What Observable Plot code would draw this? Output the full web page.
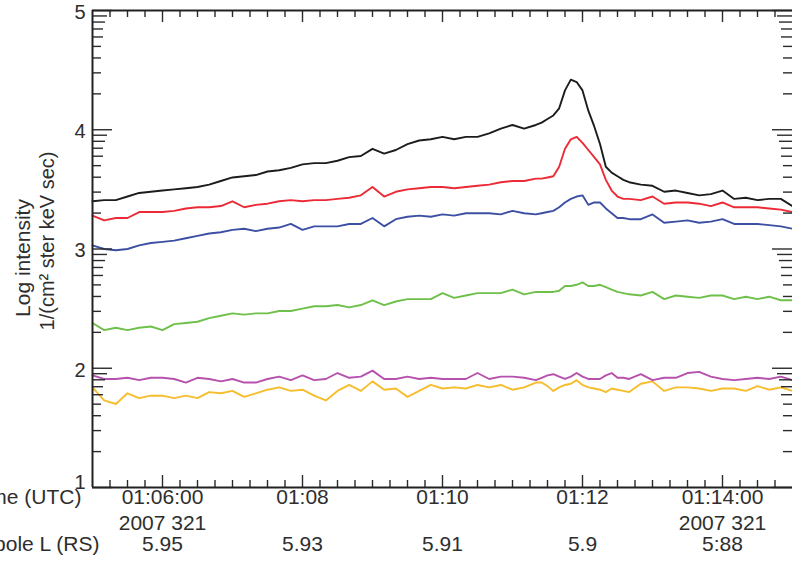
<!DOCTYPE html>
<html><head><meta charset="utf-8">
<script src="https://cdn.jsdelivr.net/npm/d3@7"></script>
<script src="https://cdn.jsdelivr.net/npm/@observablehq/plot@0.6"></script>
<style>
html,body{margin:0;padding:0;background:#fff;}
#chart{width:792px;height:562px;overflow:hidden;}
</style></head><body><div id="chart"></div>
<script>
// seconds after 01:05:00 UTC, 2007 day 321
const seconds = [0,10,20,30,40,50,60,70,80,90,100,110,120,130,140,150,160,170,180,190,200,210,220,230,240,250,260,270,280,290,300,310,320,330,340,350,360,370,
  380,385,390,395,400,405,410,415,420,425,430,435,440,445,450,455,460,
  470,480,490,500,510,520,530,540,550,560,570,580,590,600];

const black = [3.40,3.41,3.41,3.44,3.47,3.48,3.49,3.50,3.51,3.52,3.54,3.57,3.60,3.61,3.62,3.65,3.66,3.68,3.71,3.72,3.72,3.74,3.77,3.78,3.84,3.80,3.83,3.88,3.91,3.92,3.94,3.92,3.94,3.94,3.97,4.01,4.04,4.01,
  4.04,4.06,4.09,4.12,4.18,4.33,4.42,4.40,4.33,4.16,4.03,3.88,3.69,3.64,3.61,3.58,3.56,
  3.54,3.53,3.48,3.49,3.47,3.45,3.46,3.49,3.42,3.43,3.41,3.42,3.42,3.36];
const red = [3.28,3.24,3.26,3.26,3.31,3.31,3.31,3.32,3.34,3.35,3.35,3.36,3.40,3.35,3.37,3.38,3.40,3.41,3.40,3.41,3.41,3.42,3.43,3.45,3.52,3.44,3.48,3.50,3.51,3.52,3.52,3.51,3.52,3.53,3.54,3.56,3.57,3.57,
  3.59,3.59,3.60,3.61,3.69,3.84,3.92,3.94,3.89,3.83,3.77,3.71,3.58,3.49,3.44,3.42,3.42,
  3.41,3.44,3.38,3.39,3.39,3.38,3.36,3.39,3.35,3.35,3.35,3.34,3.33,3.31];
const blue = [3.03,3.00,2.99,3.00,3.03,3.05,3.06,3.07,3.09,3.11,3.13,3.14,3.16,3.17,3.15,3.17,3.18,3.21,3.16,3.19,3.19,3.19,3.21,3.21,3.26,3.19,3.25,3.27,3.28,3.27,3.29,3.28,3.30,3.30,3.30,3.29,3.32,3.30,
  3.29,3.30,3.31,3.32,3.35,3.39,3.42,3.44,3.45,3.37,3.39,3.39,3.34,3.30,3.26,3.26,3.25,
  3.25,3.29,3.22,3.23,3.24,3.22,3.23,3.25,3.21,3.21,3.21,3.20,3.19,3.17];
const green = [2.38,2.32,2.34,2.32,2.34,2.35,2.32,2.37,2.38,2.39,2.42,2.44,2.46,2.45,2.46,2.46,2.48,2.48,2.50,2.52,2.52,2.53,2.51,2.53,2.57,2.53,2.56,2.58,2.58,2.58,2.63,2.59,2.61,2.63,2.63,2.63,2.66,2.62,
  2.64,2.64,2.64,2.64,2.65,2.69,2.69,2.70,2.72,2.69,2.69,2.70,2.68,2.66,2.64,2.63,2.62,
  2.61,2.64,2.58,2.61,2.60,2.59,2.61,2.61,2.58,2.60,2.58,2.60,2.57,2.57];
const magenta = [1.94,1.91,1.91,1.92,1.90,1.92,1.92,1.91,1.88,1.92,1.91,1.89,1.91,1.88,1.88,1.91,1.93,1.90,1.94,1.90,1.91,1.96,1.92,1.93,1.98,1.91,1.91,1.93,1.91,1.92,1.91,1.91,1.91,1.96,1.91,1.93,1.93,1.92,
  1.90,1.92,1.94,1.95,1.93,1.91,1.93,1.96,1.93,1.91,1.91,1.91,1.94,1.96,1.92,1.92,1.91,
  1.95,1.90,1.92,1.92,1.96,1.97,1.93,1.91,1.90,1.91,1.92,1.91,1.93,1.90];
const yellow = [1.84,1.73,1.70,1.79,1.75,1.77,1.77,1.75,1.77,1.75,1.80,1.79,1.81,1.76,1.79,1.82,1.84,1.81,1.82,1.77,1.73,1.81,1.86,1.81,1.89,1.82,1.83,1.76,1.81,1.86,1.83,1.84,1.83,1.86,1.84,1.86,1.82,1.84,
  1.88,1.88,1.85,1.81,1.84,1.86,1.87,1.90,1.86,1.84,1.83,1.82,1.80,1.83,1.82,1.81,1.80,
  1.87,1.89,1.81,1.84,1.84,1.83,1.81,1.83,1.83,1.81,1.85,1.82,1.84,1.81];

const seriesNames = ["ch6","ch5","ch4","ch3","ch2","ch1"];
const seriesColors = ["#f6bd2c","#b651ad","#6fc04a","#3c4fa3","#ec2a36","#1c1c1c"];
const seriesValues = [yellow, magenta, green, blue, red, black];

const majorTickTimes = ["01:06:00","01:08:00","01:10:00","01:12:00","01:14:00"];
const majorTickLabels = ["01:06:00","01:08","01:10","01:12","01:14:00"];
const dateLabels = ["2007 321","","","","2007 321"];
const dipoleL = ["5.95","5.93","5.91","5.9","5:88"];
const yTicks = [1,2,3,4,5];
const rowTitles = ["Time (UTC)","Dipole L (RS)"];
const yLabelLines = ["Log intensity","1/(cm\u00b2 ster keV sec)"];

const day = "2007-11-17";
const t0 = new Date(`${day}T01:05:00Z`);
const t1 = new Date(`${day}T01:15:00Z`);
const rows = [];
seriesValues.forEach((vals, j) => vals.forEach((v, i) =>
  rows.push({series: seriesNames[j], time: new Date(+t0 + seconds[i] * 1000), value: v})));

const majorTimes = majorTickTimes.map(s => new Date(`${day}T${s}Z`));
const majorSet = new Set(majorTimes.map(Number));
const minorTimes = d3.utcSecond.every(15).range(t0, new Date(+t1 + 1))
  .filter(d => !majorSet.has(+d) && +d !== +t0 && +d !== +t1);

// log-style minor ticks between integer decades
const minorLen = {9: 15, 8: 13, 7: 11, 6: 11, 5: 9, 4: 9, 3: 9, 2: 9};
const yMinorGroups = {};
for (let i = 1; i < 5; i++) for (let k = 2; k <= 9; k++) {
  const L = minorLen[k];
  (yMinorGroups[L] = yMinorGroups[L] || []).push(i + Math.log10(k));
}

const W = 700, H = 477;
const tk = {stroke: "#2b2b2b", strokeWidth: 1.4};
const font = "Helvetica, Arial, 'Liberation Sans', sans-serif";

function yTickPair(vals, len) {
  return [
    Plot.tickY(vals, {y: d => d, insetRight: W - len, ...tk}),
    Plot.tickY(vals, {y: d => d, insetLeft: W - len, ...tk})
  ];
}
function xTickPair(vals, len) {
  return [
    Plot.tickX(vals, {x: d => d, insetTop: H - len, ...tk}),
    Plot.tickX(vals, {x: d => d, insetBottom: H - len, ...tk})
  ];
}

const txt = {fill: "#2e2e2e", fontSize: 21};
const ytxt = {fill: "#2e2e2e", fontSize: 20, frameAnchor: "left", textAnchor: "end", dx: -7};

const chart = Plot.plot({
  width: 792, height: 562,
  marginLeft: 92, marginRight: 0, marginTop: 10, marginBottom: 75,
  style: {fontFamily: font, background: "white", color: "#2e2e2e"},
  x: {type: "utc", domain: [t0, t1], axis: null},
  y: {domain: [1, 5], axis: null},
  color: {domain: seriesNames, range: seriesColors},
  marks: [
    Plot.line(rows, {x: "time", y: "value", z: "series", stroke: "series", strokeWidth: 1.9, strokeLinejoin: "round"}),
    ...yTickPair(yTicks, 20),
    ...Object.entries(yMinorGroups).flatMap(([L, vals]) => yTickPair(vals, +L)),
    ...xTickPair(majorTimes, 12),
    ...xTickPair(minorTimes, 7),
    Plot.ruleY([1], {stroke: "#222", strokeWidth: 2}),
    Plot.ruleY([5], {stroke: "#222", strokeWidth: 2}),
    Plot.ruleX([t0], {stroke: "#222", strokeWidth: 2}),
    Plot.text(yTicks.filter(d => d > 1), {y: d => d, text: d => String(d), dy: 2, ...ytxt}),
    Plot.text(yTicks.filter(d => d === 1), {y: d => d, text: d => String(d), dy: -5, ...ytxt}),
    Plot.text(majorTimes, {x: d => d, text: (d, i) => majorTickLabels[i], frameAnchor: "bottom", dy: 16, ...txt}),
    Plot.text(majorTimes, {x: d => d, text: (d, i) => dateLabels[i], frameAnchor: "bottom", dy: 42, ...txt}),
    Plot.text(majorTimes, {x: d => d, text: (d, i) => dipoleL[i], frameAnchor: "bottom", dy: 63, ...txt}),
    Plot.text([rowTitles[0]], {text: d => d, frameAnchor: "bottom-left", textAnchor: "end", dx: -11, dy: 16, ...txt}),
    Plot.text([rowTitles[1]], {text: d => d, frameAnchor: "bottom-left", textAnchor: "end", dx: 7, dy: 63, ...txt}),
    Plot.text([yLabelLines[0]], {text: d => d, frameAnchor: "left", textAnchor: "middle", rotate: -90, dx: -69, dy: 9, fill: "#2e2e2e", fontSize: 21}),
    Plot.text([yLabelLines[1]], {text: d => d, frameAnchor: "left", textAnchor: "middle", rotate: -90, dx: -45, dy: -8, fill: "#2e2e2e", fontSize: 20})
  ]
});
document.getElementById("chart").appendChild(chart);
</script>
</body></html>
